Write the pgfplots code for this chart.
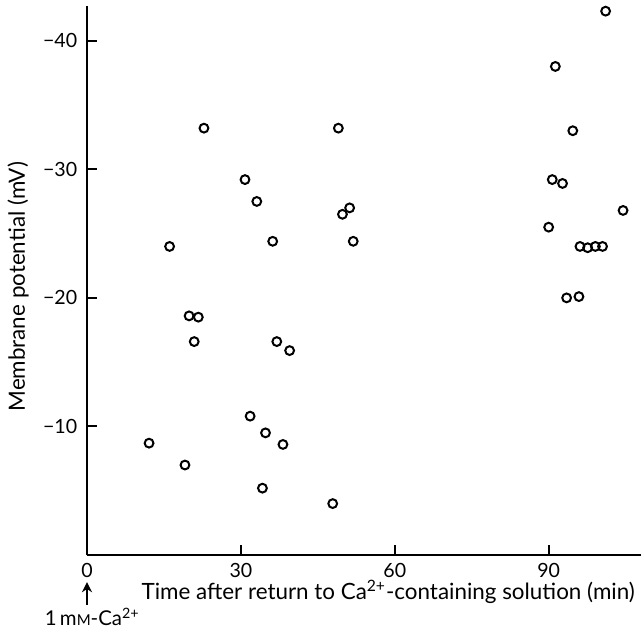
\documentclass[border=0pt]{standalone}
\usepackage{fontspec}
\setmainfont{Lato}
\usepackage{pgfplots}
\pgfplotsset{compat=1.18}
\usetikzlibrary{arrows.meta}

\pgfplotstableread{
t    v
12.1 -8.7
16.1 -24.0
19.1 -7.0
19.9 -18.6
21.7 -18.5
20.9 -16.6
22.8 -33.2
30.8 -29.2
31.8 -10.8
33.1 -27.5
34.2 -5.2
34.8 -9.5
36.2 -24.4
37.0 -16.6
38.2 -8.6
39.5 -15.9
47.9 -4.0
49.0 -33.2
49.8 -26.5
51.2 -27.0
51.9 -24.4
90.0 -25.5
90.7 -29.2
91.3 -38.0
92.7 -28.9
93.5 -20.0
94.7 -33.0
95.9 -20.1
96.1 -24.0
97.6 -23.9
99.1 -24.0
100.5 -24.0
101.1 -42.3
104.5 -26.8
}\cells

\begin{document}
\begin{tikzpicture}[font=\fontsize{11.2}{13}\selectfont]
  \useasboundingbox (-43.5pt,-37pt) rectangle (277pt,277.5pt);
  \begin{axis}[
      scale only axis, width=277pt, height=274.5pt,
      xmin=0, xmax=108, ymin=-42.7, ymax=0,
      y dir=reverse,
      axis x line=bottom, axis y line=left,
      axis line style={-, line width=1pt},
      tick align=inside, major tick length=5pt,
      tick style={line width=1pt, black},
      tick label style={font=\fontsize{9.8}{11}\selectfont},
      xtick={0,30,60,90},
      ytick={-40,-30,-20,-10},
      yticklabels={−40,−30,−20,−10},
      yticklabel style={inner sep=0.5pt, xshift=-4.2pt},
      xticklabel style={inner sep=0.5pt, yshift=-3.2pt},
      /pgf/number format/assume math mode=true,
      clip=false
    ]
    \addplot[only marks, mark=o, mark size=2.2pt, mark options={line width=1pt}, black]
      table[x=t, y=v] {\cells};
  \end{axis}
  \node[inner sep=0.5pt, anchor=base] at (150.6pt,-22.35pt) {Time after return to Ca\textsuperscript{2+}-containing solution (min)};
  \node[rotate=90] at (-34.4pt,134.2pt) {Membrane potential (mV)};
  \draw[line width=1pt, -{Stealth[length=5pt,width=5pt]}] (0,-24.8pt) -- (0,-13.6pt);
  \node[font=\fontsize{10.2}{12}\selectfont] at (2.6pt,-31.1pt) {1\,m{\fontsize{7.5}{9}\selectfont M}-Ca\textsuperscript{2+}};
\end{tikzpicture}
\end{document}
